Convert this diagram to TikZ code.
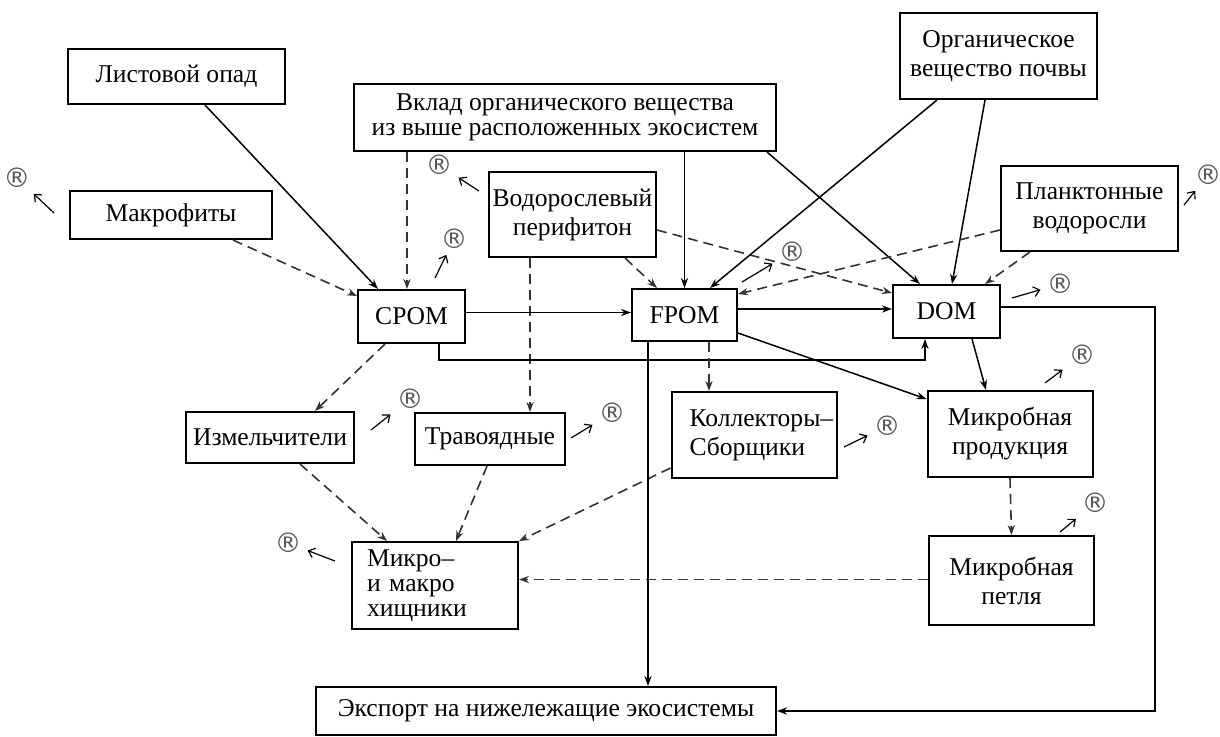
\documentclass[tikz,border=0pt]{standalone}
\usepackage{fontspec}
\setmainfont{Liberation Serif}
\newfontfamily\regfont{DejaVu Sans}
\usetikzlibrary{arrows.meta,calc}

\tikzset{
  box/.style={draw, line width=1pt, align=center, inner sep=1pt,
    font=\fontsize{12.8}{14.5}\selectfont},
  flow/.style={->, line width=0.75pt},
  dflow/.style={->, line width=0.8pt, black!80, dash pattern=on 5pt off 3pt},
  reg/.style={inner sep=0pt, outer sep=3pt, text=black!65,
    font=\regfont\fontsize{13.5}{13.5}\selectfont},
  ret/.style={-{Straight Barb[length=3pt,width=5pt]}, line width=0.6pt},
}

\begin{document}
\begin{tikzpicture}[>={Stealth[length=5pt,width=3.6pt]}, x=0.5pt, y=-0.5pt]
  \useasboundingbox (0,0) rectangle (1220,736);

  % sources
  \node[box, minimum width=108.5pt, minimum height=27.5pt] (listopad) at (176.5,76.5) {Листовой опад};
  \node[box, minimum width=101pt, minimum height=24pt] (makro) at (171,215) {Макрофиты};
  \node[box, minimum width=211pt, minimum height=33.5pt,
    font=\fontsize{12.8}{12.5}\selectfont] (vklad) at (565,117.5)
    {Вклад органического вещества\\из выше расположенных экосистем};
  \node[box, minimum width=83.5pt, minimum height=42.5pt] (perif) at (572.5,214.5) {Водорослевый\\перифитон};
  \node[box, minimum width=98.5pt, minimum height=43pt] (pochva) at (998.5,56) {Органическое\\вещество почвы};
  \node[box, minimum width=88.5pt, minimum height=42.5pt] (plankt) at (1089.5,208.5) {Планктонные\\водоросли};

  % pools
  \node[box, minimum width=53.5pt, minimum height=26.5pt] (cpom) at (411.5,316.5) {CPOM};
  \node[box, minimum width=52.5pt, minimum height=26pt] (fpom) at (684.5,315) {FPOM};
  \node[box, minimum width=53.5pt, minimum height=26.5pt] (dom) at (946.5,311.5) {DOM};

  % consumers
  \node[box, minimum width=84pt, minimum height=25.5pt] (shred) at (270,437.5) {Измельчители};
  \node[box, minimum width=75pt, minimum height=26pt] (herb) at (490,439) {Травоядные};
  \node[box, align=left, inner xsep=0pt, text width=82.5pt, minimum height=43pt] (coll) at (754,435)
    {\hspace*{9pt}Коллекторы–\\\hspace*{9pt}Сборщики};
  \node[box, minimum width=82.5pt, minimum height=43pt] (mprod) at (1010,434) {Микробная\\продукция};
  \node[box, minimum width=82.5pt, minimum height=44.5pt] (mloop) at (1011.5,580.5) {Микробная\\петля};
  \node[box, align=left, inner xsep=7.5pt, text width=68pt, minimum height=43.5pt,
    font=\fontsize{12.8}{12.5}\selectfont] (pred) at (435,585.5) {Микро–\\и макро\\хищники};
  \node[box, minimum width=230pt, minimum height=24pt] (export) at (546,711) {Экспорт на нижележащие экосистемы};

  % inputs to the pools
  \draw[flow] ($(listopad.south)+(28.5,0)$) -- ($(cpom.north)+(-33.5,0)$);
  \draw[dflow] ($(makro.south)+(62,0)$) -- ($(cpom.west)+(0,-20.5)$);
  \draw[dflow] ($(vklad.south)+(-158,0)$) -- ($(cpom.north)+(-4.5,0)$);
  \draw[flow] (fpom.north |- vklad.south) -- (fpom.north);
  \draw[flow] ($(vklad.south)+(202,0)$) -- ($(dom.north)+(-26.5,0)$);
  \draw[dflow] ($(perif.south)+(52.5,0)$) -- ($(fpom.north)+(-27.5,0)$);
  \draw[dflow] ($(perif.east)+(0,15.5)$) -- ($(dom.west)+(0,-18.5)$);
  \draw[dflow] ($(perif.south)+(-42.5,0)$) -- ($(herb.north)+(40,0)$);
  \draw[flow] ($(pochva.south)+(-61.5,0)$) -- ($(fpom.north)+(25.5,0)$);
  \draw[flow] ($(pochva.south)+(-13.5,0)$) -- ($(dom.north)+(5.5,0)$);
  \draw[dflow] ($(plankt.west)+(0,21.5)$) -- ($(fpom.east)+(0,-21)$);
  \draw[dflow] ($(plankt.south)+(-59.5,0)$) -- ($(dom.north)+(38.5,0)$);

  % between the pools
  \draw[flow] ([yshift=2pt]cpom.east) -- ([yshift=2pt]cpom.east -| fpom.west);
  \draw[flow] ([yshift=3pt]fpom.east) -- ([yshift=3pt]fpom.east -| dom.west);
  \draw[flow] ($(cpom.south)+(27.5,0)$) |- ($(dom.south)+(-21.5,21)$) -- ($(dom.south)+(-21.5,0)$);

  % to the consumers
  \draw[dflow] ($(cpom.south)+(-26.5,0)$) -- ($(shred.north)+(45,0)$);
  \draw[dflow] ($(fpom.south)+(24.5,0)$) -- ($(coll.north)+(-45,0)$);
  \draw[flow] ($(fpom.east)+(0,18)$) -- ($(mprod.west)+(0,-35)$);
  \draw[flow] ($(dom.south)+(25.5,0)$) -- ($(mprod.north)+(-24,0)$);
  \draw[dflow] (mprod.south) -- (mloop.north);
  \draw[dflow] ($(shred.south)+(30,0)$) -- ($(pred.north)+(-48,0)$);
  \draw[dflow] ($(herb.south)+(-3,0)$) -- ($(pred.north)+(21,0)$);
  \draw[dflow] ($(coll.west)+(0,33)$) -- (pred.north east);
  \draw[dflow] ([yshift=0.5pt]mloop.west) -- ([yshift=0.5pt]mloop.west -| pred.east);

  % export
  \draw[flow] ($(fpom.south)+(-36.5,0)$) -- ($(export.north)+(102,0)$);
  \draw[flow] ($(dom.east)+(0,-4.5)$) -- ++(154,0) |- (export.east);

  % respiration
  \node[reg] (r1) at (17,178) {®};
  \node[reg] (r2) at (454,239) {®};
  \node[reg] (r3) at (439,165) {®};
  \node[reg] (r4) at (1208,175) {®};
  \node[reg] (r5) at (792,252) {®};
  \node[reg] (r6) at (1060,284) {®};
  \node[reg] (r7) at (1082,355) {®};
  \node[reg] (r8) at (410,399) {®};
  \node[reg] (r9) at (612,413) {®};
  \node[reg] (r10) at (887,426) {®};
  \node[reg] (r11) at (1095,503) {®};
  \node[reg] (r12) at (288,543) {®};
  \draw[ret] ($(r1)+(37,35)$) -- (r1);
  \draw[ret] ($(r2)+(-19,39)$) -- (r2);
  \draw[ret] ($(r3)+(40,26)$) -- (r3);
  \draw[ret] ($(r4)+(-24,30)$) -- (r4);
  \draw[ret] ($(r5)+(-50,30)$) -- (r5);
  \draw[ret] ($(r6)+(-48,14)$) -- (r6);
  \draw[ret] ($(r7)+(-37,28)$) -- (r7);
  \draw[ret] ($(r8)+(-39,31)$) -- (r8);
  \draw[ret] ($(r9)+(-41,25)$) -- (r9);
  \draw[ret] ($(r10)+(-43,21)$) -- (r10);
  \draw[ret] ($(r11)+(-35,29)$) -- (r11);
  \draw[ret] ($(r12)+(47,18)$) -- (r12);
\end{tikzpicture}
\end{document}
